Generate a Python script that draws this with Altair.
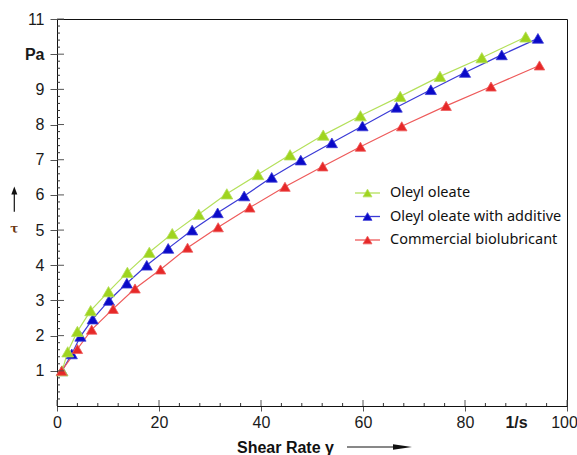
import altair as alt
import pandas as pd

# ---- data ----
series_names = ["Oleyl oleate", "Oleyl oleate with additive", "Commercial biolubricant"]

x_oleyl = [1.0, 2.1, 4.0, 6.6, 10.1, 13.8, 18.1, 22.6, 27.8, 33.3, 39.4, 45.7, 52.2, 59.5, 67.3, 75.1, 83.3, 91.9]
y_oleyl = [1.0, 1.54, 2.12, 2.71, 3.25, 3.80, 4.37, 4.90, 5.45, 6.03, 6.58, 7.14, 7.70, 8.25, 8.80, 9.37, 9.90, 10.49]

x_add = [1.0, 2.9, 4.6, 7.0, 10.2, 13.7, 17.6, 21.8, 26.5, 31.5, 36.7, 42.1, 47.8, 53.9, 59.9, 66.6, 73.3, 80.0, 87.2, 94.3]
y_add = [1.0, 1.48, 1.98, 2.47, 3.00, 3.49, 4.00, 4.48, 5.00, 5.49, 5.97, 6.50, 6.99, 7.48, 7.96, 8.49, 8.99, 9.48, 9.98, 10.45]

x_comm = [0.9, 4.0, 6.8, 11.0, 15.3, 20.3, 25.6, 31.6, 37.8, 44.7, 52.1, 59.5, 67.6, 76.3, 85.1, 94.6]
y_comm = [1.0, 1.62, 2.17, 2.76, 3.34, 3.88, 4.50, 5.08, 5.64, 6.23, 6.81, 7.37, 7.95, 8.53, 9.08, 9.68]

x_tick_labels = [0, 20, 40, 60, 80, 90, 100]
x_major_ticks = [0, 20, 40, 60, 80, 100]
x_minor_ticks = [v for v in range(0, 101, 4) if v % 20 != 0]
y_tick_labels = [1, 2, 3, 4, 5, 6, 7, 8, 9, 10, 11]
y_minor_ticks = [round(i * 0.2, 1) for i in range(0, 56) if i % 5 != 0]

point_colors = ["#9fd41f", "#0a0ac8", "#e62828"]
line_colors = ["#b4e05a", "#3a3ad6", "#ee5a5a"]
point_sizes = [140, 110, 170]

# ---- build tables ----
df = pd.concat([
    pd.DataFrame({"x": x_add, "y": y_add, "series": series_names[1], "ord": 0}),
    pd.DataFrame({"x": x_oleyl, "y": y_oleyl, "series": series_names[0], "ord": 1}),
    pd.DataFrame({"x": x_comm, "y": y_comm, "series": series_names[2], "ord": 2}),
], ignore_index=True)

W, H = 510, 387
FONT = "Liberation Sans"

xscale = alt.Scale(domain=[0, 100], nice=False, zero=False)
yscale = alt.Scale(domain=[0, 11], nice=False, zero=False)

stroke = alt.Stroke("series:N", scale=alt.Scale(domain=series_names, range=line_colors), legend=None)
fill = alt.Fill("series:N", scale=alt.Scale(domain=series_names, range=point_colors), legend=None)

x_axis = alt.Axis(
    values=x_tick_labels,
    labelExpr="datum.value == 90 ? '1/s' : datum.label",
    labelFontWeight={"condition": {"test": "datum.value == 90", "value": "bold"}, "value": "normal"},
    labelOffset={"condition": {"test": "datum.value == 100", "value": -3}, "value": 0},
    tickSize=5,
    tickOpacity={"condition": {"test": "datum.value == 90", "value": 0}, "value": 1},
    tickColor="#555555",
    domainColor="#111111",
    labelFont=FONT,
    labelFontSize=16,
    labelColor="#1a1a1a",
    labelPadding=3,
    labelOverlap=False,
    grid=False,
    title=None,
    labelFlush=False,
)
y_axis = alt.Axis(
    values=y_tick_labels,
    labelExpr="datum.value == 10 ? 'Pa' : datum.label",
    labelFontWeight={"condition": {"test": "datum.value == 10", "value": "bold"}, "value": "normal"},
    tickSize=7,
    tickColor="#555555",
    domainColor="#111111",
    labelFont=FONT,
    labelFontSize=16,
    labelColor="#1a1a1a",
    labelPadding=6,
    labelOverlap=False,
    grid=False,
    title=None,
)

base = alt.Chart(df)
lines = base.mark_line(strokeWidth=1.2).encode(
    x=alt.X("x:Q", scale=xscale, axis=x_axis),
    y=alt.Y("y:Q", scale=yscale, axis=y_axis),
    stroke=stroke,
    detail="series:N",
)
points = base.mark_point(shape="triangle-up", filled=True, opacity=1, strokeWidth=0.8).encode(
    x=alt.X("x:Q", scale=xscale, axis=x_axis),
    y=alt.Y("y:Q", scale=yscale, axis=y_axis),
    fill=fill,
    stroke=stroke,
    size=alt.Size("series:N", scale=alt.Scale(domain=series_names, range=point_sizes), legend=None),
    order=alt.Order("ord:Q"),
)

# inward tick marks
xmaj = alt.Chart(pd.DataFrame({"v": x_major_ticks})).mark_rule(color="#555555", strokeWidth=1).encode(
    x=alt.X("v:Q", scale=xscale, axis=x_axis), y=alt.value(H), y2=alt.value(H - 6))
xmin = alt.Chart(pd.DataFrame({"v": x_minor_ticks})).mark_rule(color="#333333", strokeWidth=1).encode(
    x=alt.X("v:Q", scale=xscale, axis=x_axis), y=alt.value(H), y2=alt.value(H - 3))
ymaj = alt.Chart(pd.DataFrame({"v": y_tick_labels})).mark_rule(color="#555555", strokeWidth=1).encode(
    y=alt.Y("v:Q", scale=yscale, axis=y_axis), x=alt.value(0), x2=alt.value(7))
ymin = alt.Chart(pd.DataFrame({"v": y_minor_ticks})).mark_rule(color="#333333", strokeWidth=1).encode(
    y=alt.Y("v:Q", scale=yscale, axis=y_axis), x=alt.value(0), x2=alt.value(3))

# hand-built legend (line + triangle + label per series)
leg = alt.Chart(pd.DataFrame({"series": series_names})).transform_window(
    idx="row_number()"
).transform_calculate(ly="174 + 23.5 * (datum.idx - 1)")
leg_line = leg.mark_rule(strokeWidth=1.3).encode(
    x=alt.value(298), x2=alt.value(323), y=alt.Y("ly:Q", scale=None), stroke=stroke)
leg_pt = leg.mark_point(shape="triangle-up", filled=True, opacity=1, size=80, strokeWidth=0.8).encode(
    x=alt.value(310.5), y=alt.Y("ly:Q", scale=None), fill=fill, stroke=stroke)
leg_txt = leg.mark_text(align="left", baseline="middle", font="Noto Sans", fontSize=14.5, color="#111111").encode(
    x=alt.value(333), y=alt.Y("ly:Q", scale=None), text="series:N")

one = pd.DataFrame({"a": [0]})
x_title = alt.Chart(one).mark_text(align="left", baseline="middle", font=FONT, fontSize=16,
                                   fontWeight="bold", color="#111111").encode(
    x=alt.value(180), y=alt.value(429), text=alt.value("Shear Rate  γ"))
x_arrow_line = alt.Chart(one).mark_rule(color="#111111", strokeWidth=1).encode(
    x=alt.value(290), x2=alt.value(345), y=alt.value(428))
x_arrow_head = alt.Chart(one).mark_point(shape="M-1,-0.3L1,0L-1,0.3Z", filled=True, color="#111111",
                                         size=361, opacity=1).encode(
    x=alt.value(345.5), y=alt.value(428))
y_arrow_line = alt.Chart(one).mark_rule(color="#111111", strokeWidth=1.2).encode(
    x=alt.value(-42.7), y=alt.value(173), y2=alt.value(192.7))
y_arrow_head = alt.Chart(one).mark_point(shape="M0,-1L0.75,1L-0.75,1Z", filled=True, color="#111111",
                                         size=64, opacity=1).encode(
    x=alt.value(-42.7), y=alt.value(171.5))
y_title = alt.Chart(one).mark_text(align="center", baseline="middle", font="DejaVu Serif", fontSize=12,
                                   fontWeight="bold", color="#6b3510").encode(
    x=alt.value(-42.7), y=alt.value(210), text=alt.value("τ"))

chart = alt.layer(
    lines, points, xmin, xmaj, ymin, ymaj,
    leg_line, leg_pt, leg_txt,
    x_title, x_arrow_line, x_arrow_head, y_arrow_line, y_arrow_head, y_title,
).properties(
    width=W,
    height=H,
    padding={"left": 57, "top": 19, "right": 10, "bottom": 49},
    autosize=alt.AutoSizeParams(type="none"),
    background="white",
).configure_view(stroke="#111111", strokeWidth=1).configure_axis(labelOverlap=False)

chart.save("out.html", embed_options={"renderer": "svg", "actions": False})
